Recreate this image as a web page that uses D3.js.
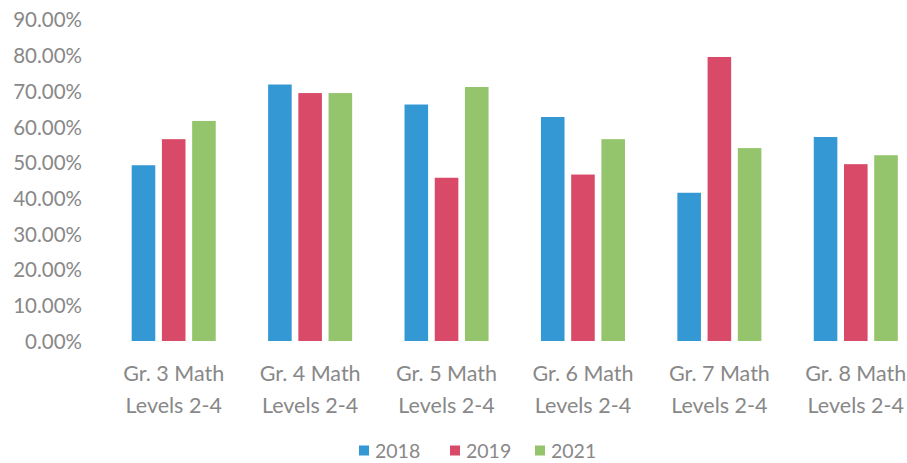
<!DOCTYPE html>
<html>
<head>
<meta charset="utf-8">
<script src="https://cdn.jsdelivr.net/npm/d3@7"></script>
<style>
  html, body { margin: 0; padding: 0; background: #fff; }
  svg { display: block; }
  text { font-family: Lato, "Open Sans", sans-serif; font-weight: 400; fill: #888888; }
</style>
</head>
<body>
<svg id="chart" width="907" height="463"></svg>
<script>
// Share of students at Levels 2-4 in math, by grade and year
const categories = [
  ["Gr. 3 Math", "Levels 2-4"],
  ["Gr. 4 Math", "Levels 2-4"],
  ["Gr. 5 Math", "Levels 2-4"],
  ["Gr. 6 Math", "Levels 2-4"],
  ["Gr. 7 Math", "Levels 2-4"],
  ["Gr. 8 Math", "Levels 2-4"]
];
const years = ["2018", "2019", "2021"];
const values2018 = [49.2, 71.8, 66.2, 62.7, 41.5, 57.1];
const values2019 = [56.5, 69.4, 45.7, 46.6, 79.5, 49.5];
const values2021 = [61.6, 69.4, 71.1, 56.5, 54.0, 52.0];
const yTicks = [0, 10, 20, 30, 40, 50, 60, 70, 80, 90];
const colors = ["#3398d3", "#d84a68", "#94c46c"];

const seriesValues = [values2018, values2019, values2021];

const svg = d3.select("#chart");

const x0 = d3.scaleBand()
  .domain(d3.range(categories.length))
  .range([105.5, 924])
  .paddingInner(0.384)
  .paddingOuter(0.192);

const x1 = d3.scaleBand()
  .domain(years)
  .range([0, x0.bandwidth()])
  .paddingInner(0.22)
  .paddingOuter(0);

const y = d3.scaleLinear().domain([0, 90]).range([341, 19.5]);

const color = d3.scaleOrdinal().domain(years).range(colors);

// Y axis labels (no axis line, no gridlines)
const yAxis = d3.axisLeft(y)
  .tickValues(yTicks)
  .tickSize(0)
  .tickPadding(0)
  .tickFormat(d => d3.format(".2f")(d) + "%");

svg.append("g")
  .attr("transform", "translate(82,0)")
  .call(yAxis)
  .call(g => g.select(".domain").remove())
  .call(g => g.selectAll("text")
    .attr("font-size", 20.5)
    .attr("font-family", "Lato, 'Open Sans', sans-serif")
    .attr("font-weight", 400)
    .attr("fill", "#888888")
    .attr("dy", "0.36em"));

// Bars
const groups = svg.append("g").selectAll("g")
  .data(categories.map((c, i) => i))
  .join("g")
  .attr("transform", i => `translate(${x0(i)},0)`);

groups.selectAll("rect")
  .data(i => years.map((yr, k) => ({ year: yr, value: seriesValues[k][i] })))
  .join("rect")
  .attr("x", d => x1(d.year))
  .attr("width", x1.bandwidth())
  .attr("y", d => y(d.value))
  .attr("height", d => y(0) - y(d.value))
  .attr("fill", d => color(d.year));

// Category labels, two lines each
const xLabels = svg.append("g").selectAll("text")
  .data(categories)
  .join("text")
  .attr("x", (d, i) => x0(i) + x0.bandwidth() / 2)
  .attr("y", 381)
  .attr("text-anchor", "middle")
  .attr("font-size", 21.5);

xLabels.selectAll("tspan")
  .data(d => d)
  .join("tspan")
  .attr("x", function () { return d3.select(this.parentNode).attr("x"); })
  .attr("dy", (d, i) => i === 0 ? 0 : 32)
  .text(d => d);

// Legend
const legendX = [359, 450, 535];
const legend = svg.append("g").selectAll("g")
  .data(years)
  .join("g")
  .attr("transform", (d, i) => `translate(${legendX[i]},450.5)`);

legend.append("rect")
  .attr("x", 0)
  .attr("y", -5)
  .attr("width", 10)
  .attr("height", 10)
  .attr("fill", d => color(d));

legend.append("text")
  .attr("x", 16)
  .attr("y", 0)
  .attr("dy", "0.36em")
  .attr("font-size", 19.5)
  .text(d => d);
</script>
</body>
</html>
